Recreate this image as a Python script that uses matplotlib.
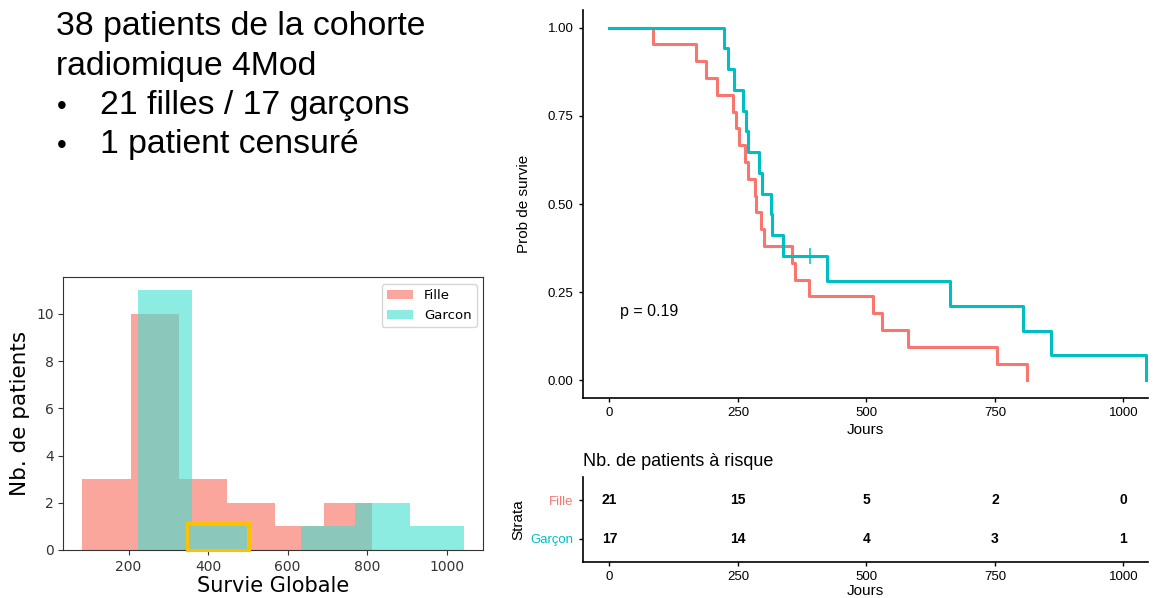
import numpy as np
import matplotlib
matplotlib.use('Agg')
import matplotlib.pyplot as plt
from matplotlib.patches import Rectangle

# survival times in days
fille_times = [84, 168, 187, 210, 240, 247, 253, 264, 270, 284, 286, 294, 300,
               356, 361, 389, 513, 531, 580, 755, 812]
fille_events = [1, 1, 1, 1, 1, 1, 1, 1, 1, 1, 1, 1, 1, 1, 1, 1, 1, 1, 1, 1, 1]
garcon_times = [223, 230, 242, 260, 266, 270, 291, 297, 314, 317, 337, 390,
                424, 662, 804, 859, 1044]
garcon_events = [1, 1, 1, 1, 1, 1, 1, 1, 1, 1, 1, 0, 1, 1, 1, 1, 1]

risk_times = [0, 250, 500, 750, 1000]
fille_at_risk = [21, 15, 5, 2, 0]
garcon_at_risk = [17, 14, 4, 3, 1]
p_value = 0.19

summary_lines = ['38 patients de la cohorte', 'radiomique 4Mod']
bullet_lines = ['21 filles / 17 garçons', '1 patient censuré']

RED = '#F8766D'
TEAL = '#00BFC4'
SANS = ['Liberation Sans', 'DejaVu Sans']


def km_curve(times, events):
    times = np.asarray(times, dtype=float)
    events = np.asarray(events)
    order = np.argsort(times, kind='stable')
    times, events = times[order], events[order]
    xs, ys = [0.0], [1.0]
    s = 1.0
    n = len(times)
    for i, (t, e) in enumerate(zip(times, events)):
        at_risk = n - i
        if e:
            s *= (at_risk - 1) / at_risk
            xs.append(t)
            ys.append(s)
    return xs, ys


def surv_at(xs, ys, t):
    idx = np.searchsorted(xs, t, side='right') - 1
    return ys[idx]


fig = plt.figure(figsize=(11.58, 5.98), dpi=100)

# --- text block, top left ---
y0 = 35
for i, line in enumerate(summary_lines):
    fig.text(56 / 1158, 1 - (y0 + 39.5 * i) / 598, line, fontsize=24.3,
             family=SANS, va='baseline', ha='left')
for i, line in enumerate(bullet_lines):
    yy = 1 - (y0 + 39.5 * (i + 2)) / 598
    fig.text(57 / 1158, yy, '\u2022', fontsize=20, family=SANS, va='baseline')
    fig.text(100 / 1158, yy, line, fontsize=24.3, family=SANS, va='baseline')

# --- histogram, bottom left ---
ax_h = fig.add_axes([0.0547, 0.0803, 0.3627, 0.456])
fille_dead = [t for t, e in zip(fille_times, fille_events) if e]
garcon_dead = [t for t, e in zip(garcon_times, garcon_events) if e]
ax_h.hist(fille_dead, bins=6, color='salmon', alpha=0.7, label='Fille')
ax_h.hist(garcon_dead, bins=6, color='turquoise', alpha=0.6, label='Garcon')
ax_h.add_patch(Rectangle((347, 0), 156, 1.14, fill=False, edgecolor='#FFC000',
                         lw=2.2, clip_on=False, zorder=5))
ax_h.set_xlabel('Survie Globale', fontsize=15, labelpad=2)
ax_h.set_ylabel('Nb. de patients', fontsize=15.5)
ax_h.tick_params(labelsize=10, colors='#333333')
ax_h.legend(loc='upper right', fontsize=9.5)
for sp in ax_h.spines.values():
    sp.set_color('#333333')

# --- Kaplan-Meier curves ---
ax_km = fig.add_axes([0.5032, 0.3344, 0.4882, 0.6489])
fx, fy = km_curve(fille_times, fille_events)
gx, gy = km_curve(garcon_times, garcon_events)
ax_km.step(fx, fy, where='post', color=RED, lw=2.2)
ax_km.step(gx, gy, where='post', color=TEAL, lw=2.2)
for t, e in zip(garcon_times, garcon_events):
    if not e:
        ax_km.plot(t, surv_at(gx, gy, t), marker='+', ms=12, mew=1.1, color=TEAL)
ax_km.text(20, 0.195, f'p = {p_value}', fontsize=11.5, family=SANS, va='center')
ax_km.set_xlim(-52, 1048)
ax_km.set_ylim(-0.05, 1.05)
ax_km.set_xticks(risk_times)
ax_km.set_yticks([0, 0.25, 0.5, 0.75, 1.0])
ax_km.set_yticklabels(['0.00', '0.25', '0.50', '0.75', '1.00'])
ax_km.set_xlabel('Jours', fontsize=11, family=SANS, labelpad=3)
ax_km.set_ylabel('Prob de survie', fontsize=11, family=SANS, labelpad=12)

# --- number at risk table ---
ax_t = fig.add_axes([0.5032, 0.0602, 0.4882, 0.1421])
for t, nf, ng in zip(risk_times, fille_at_risk, garcon_at_risk):
    ax_t.text(t, 2, str(nf), ha='center', va='center', fontsize=10,
              fontweight='bold', family=SANS)
    ax_t.text(t, 1, str(ng), ha='center', va='center', fontsize=10,
              fontweight='bold', family=SANS)
ax_t.set_xlim(-52, 1048)
ax_t.set_ylim(0.4, 2.6)
ax_t.set_xticks(risk_times)
ax_t.set_yticks([2, 1])
ax_t.set_yticklabels(['Fille', 'Garçon'])
ax_t.set_title('Nb. de patients à risque', loc='left', fontsize=13,
               family=SANS, pad=8)
ax_t.set_xlabel('Jours', fontsize=11, family=SANS, labelpad=1)
ax_t.set_ylabel('Strata', fontsize=11, family=SANS, labelpad=4)

for ax in (ax_km, ax_t):
    ax.spines['top'].set_visible(False)
    ax.spines['right'].set_visible(False)
    ax.spines['left'].set_linewidth(1.2)
    ax.spines['bottom'].set_linewidth(1.2)
    ax.tick_params(length=3, width=1, labelsize=9.5, colors='black')
    for lab in ax.get_xticklabels() + ax.get_yticklabels():
        lab.set_family(SANS)

for lab, c in zip(ax_t.get_yticklabels(), [RED, TEAL]):
    lab.set_color(c)

fig.savefig('out.png', dpi=100)
